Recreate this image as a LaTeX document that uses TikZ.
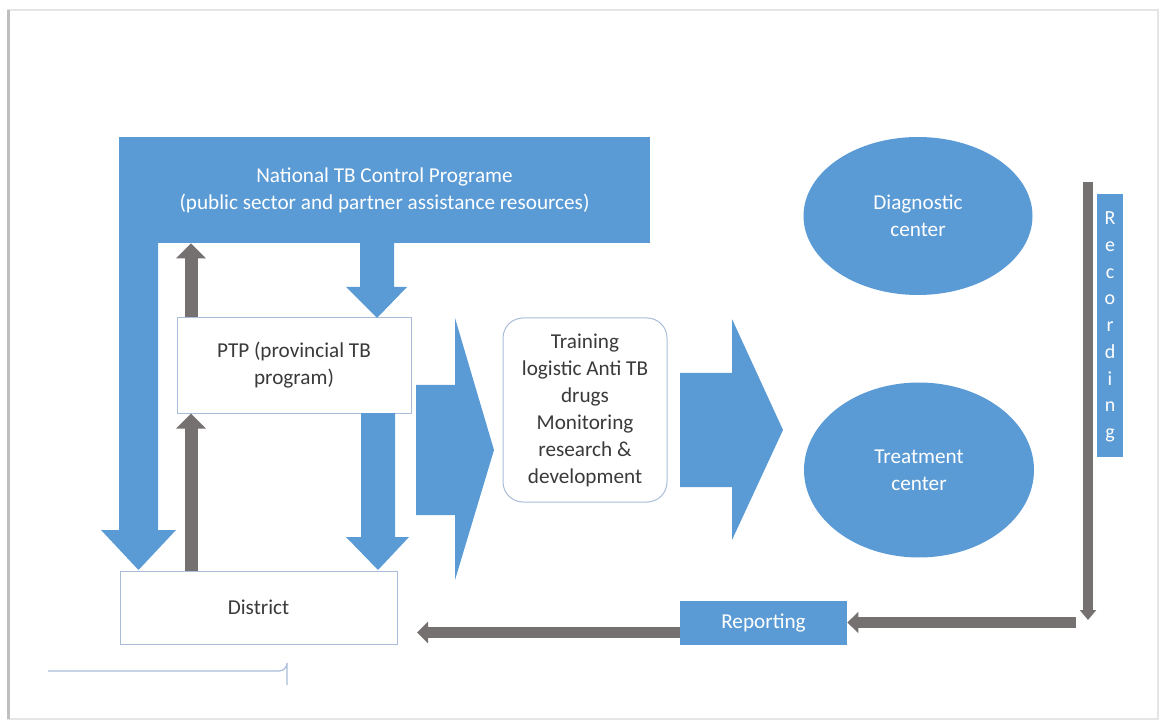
\documentclass[tikz,border=0pt]{standalone}
\usepackage{fontspec}
\setmainfont{Carlito}
\usetikzlibrary{arrows.meta,shapes.geometric}
\definecolor{tbblue}{HTML}{5B9BD5}
\definecolor{tbgray}{HTML}{767171}
\definecolor{tbline}{HTML}{A9BDD8}
\definecolor{tbtext}{HTML}{3A3A3A}
\tikzset{
  bluebox/.style={rectangle, fill=tbblue, draw=none, inner sep=0pt, text=white, align=center, font=\fontsize{10.6}{13.5}\selectfont},
  whitebox/.style={rectangle, fill=white, draw=tbline, line width=0.5pt, inner sep=0pt, text=tbtext, align=center, font=\fontsize{10.6}{13.5}\selectfont},
  blueell/.style={ellipse, fill=tbblue, draw=none, inner sep=0pt, text=white, align=center, font=\fontsize{10.6}{13.5}\selectfont},
  blockarrow/.style={fill=tbblue, draw=none},
  grayup/.style={draw=tbgray, line width=6.5pt, -{Triangle[width=14.5pt,length=7.5pt]}},
  grayarr/.style={draw=tbgray, line width=5.5pt, -{Triangle[width=10.5pt,length=5.5pt]}},
  grayvert/.style={draw=tbgray, line width=5pt, -{Triangle[width=8pt,length=5pt]}}
}
\begin{document}
\begin{tikzpicture}[x=0.5pt,y=-0.5pt]
\useasboundingbox (0,0) rectangle (1161,721);
% page frame
\draw[draw=black!10, line width=1pt] (7,10) -- (1158,10) -- (1158,719) -- (7,719);
\draw[draw=black!25, line width=1.5pt] (8,10) -- (8,719);

% main boxes
\node[bluebox, minimum width=265.5pt, minimum height=53pt] (nat) at (384.5,190) {National TB Control Programe\\(public sector and partner assistance resources)};
\node[whitebox, minimum width=117pt, minimum height=47.5pt] (ptp) at (294,365.5) {\raisebox{-1.5pt}{\parbox{110pt}{\centering PTP (provincial TB\\program)}}};
\node[whitebox, minimum width=138.5pt, minimum height=36.5pt] (dist) at (258.5,607.5) {District};
\node[whitebox, rounded corners=10pt, minimum width=82pt, minimum height=92pt] (train) at (585,410) {Training\\logistic Anti TB\\drugs\\Monitoring\\research \&\\development};
\node[blueell, minimum width=114.5pt, minimum height=79pt] (diag) at (918,216) {Diagnostic\\center};
\node[blueell, minimum width=115pt, minimum height=87.5pt] (treat) at (919,470) {Treatment\\center};
\node[bluebox, minimum width=13pt, minimum height=131.5pt] (rec) at (1110,325.5) {};
\node[text=white, align=center, inner sep=0pt, font=\fontsize{10}{13.35}\selectfont] (rectext) at (1110,327) {R\\e\\c\\o\\r\\d\\i\\n\\g};
\node[bluebox, minimum width=83.5pt, minimum height=22pt] (rep) at (763.5,623) {Reporting};

% blue block arrows
\fill[blockarrow] (119,243) -- (158,243) -- (158,530) -- (176,530) -- (138.5,570) -- (101,530) -- (119,530) -- cycle;
\fill[blockarrow] (360,243) -- (394,243) -- (394,287) -- (407,287) -- (377,318) -- (346,287) -- (360,287) -- cycle;
\fill[blockarrow] (361,413) -- (395,413) -- (395,537) -- (409,537) -- (378,570) -- (346,537) -- (361,537) -- cycle;
\fill[blockarrow] (416,385) -- (455,385) -- (455,318) -- (494,450) -- (455,580) -- (455,515) -- (416,515) -- cycle;
\fill[blockarrow] (680,373) -- (732,373) -- (732,319) -- (783,430) -- (732,540) -- (732,487) -- (680,487) -- cycle;

% gray arrows
\draw[grayup] (ptp.north -| 191,0) -- (nat.south -| 191,0);
\draw[grayup] (dist.north -| 191,0) -- (ptp.south -| 191,0);
\coordinate (rectop) at (1088,182);
\coordinate (recbot) at (1088,620);
\coordinate (repstart) at (1076,622.5);
\coordinate (distin) at (417,632.5);
\draw[grayvert] (rectop) -- (recbot);
\draw[grayarr] (repstart) -- (repstart -| rep.east);
\draw[grayarr] (rep.west |- distin) -- (distin);

% partial box bottom-left
\draw[draw=tbline, line width=0.6pt] (48,671) -- (279,671) arc[start angle=90, end angle=0, radius=8] -- (287,685);
\end{tikzpicture}
\end{document}
